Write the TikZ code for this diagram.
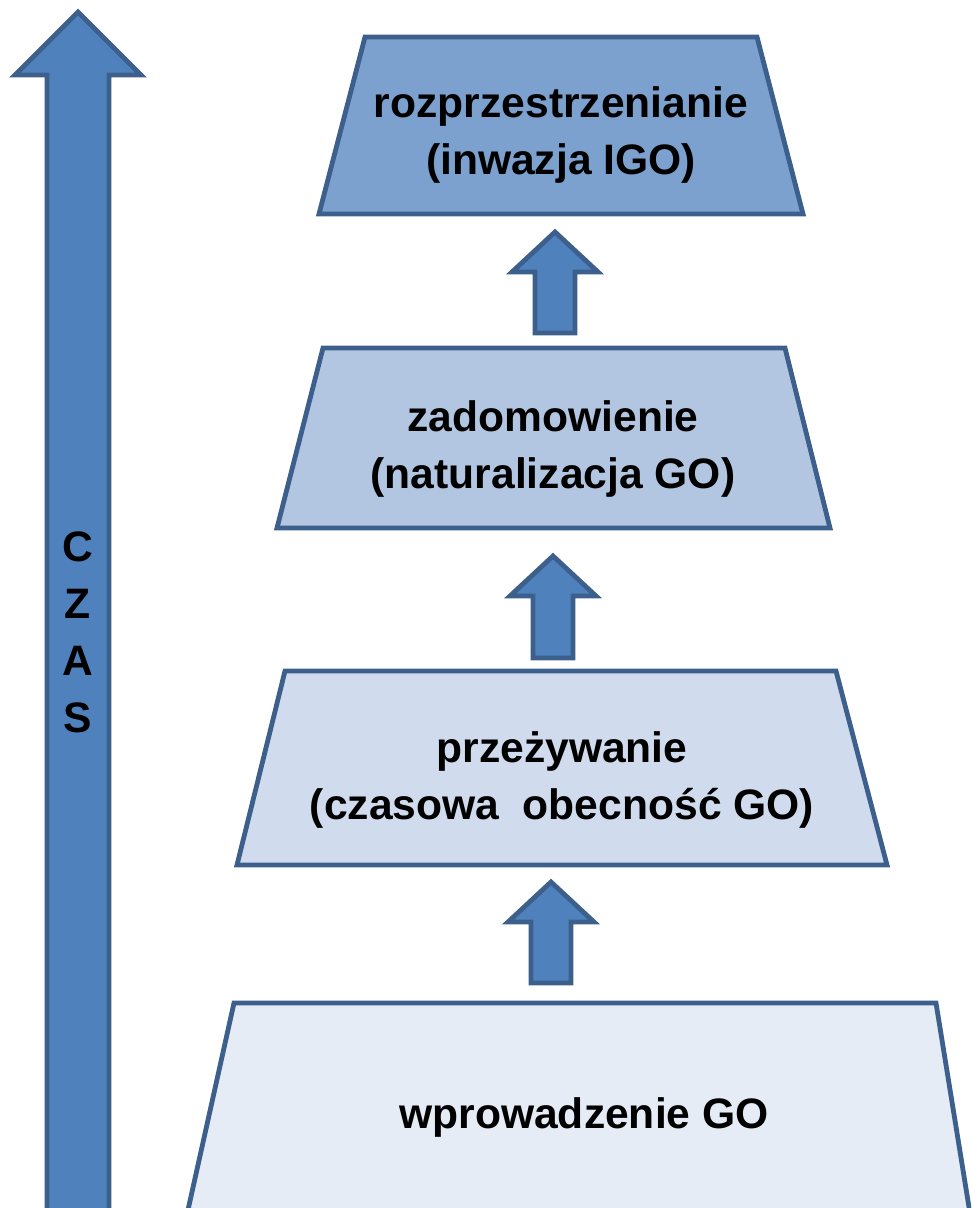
\documentclass[tikz,border=0pt]{standalone}
\usepackage{fontspec}
\setmainfont{Liberation Sans}
\definecolor{rama}{HTML}{3C5F8C}
\definecolor{strz}{HTML}{4F81BD}
\definecolor{poz1}{HTML}{7CA1CE}
\definecolor{poz2}{HTML}{B2C6E1}
\definecolor{poz3}{HTML}{D0DCED}
\definecolor{poz4}{HTML}{E5ECF5}

\begin{document}
\begin{tikzpicture}[x=0.5pt,y=-0.5pt,line join=miter,
    etap/.style={draw=rama,line width=2.4pt},
    opis/.style={font=\bfseries\fontsize{21.3}{28.5}\selectfont,align=center}]
  \clip (0,0) rectangle (971,1208);
  % duza strzalka czasu
  \draw[etap,fill=strz] (78,12) -- (141,75) -- (109,75) -- (109,1230)
    -- (47,1230) -- (47,75) -- (15,75) -- cycle;
  \node[opis] (czas) at (78,632) {C\\Z\\A\\S};
  % poziomy (od gory)
  \draw[etap,fill=poz1] (365,37) -- (757,37) -- (803,214) -- (319,214) -- cycle;
  \draw[etap,fill=poz2] (323,348) -- (785,348) -- (830,528) -- (277,528) -- cycle;
  \draw[etap,fill=poz3] (285,671) -- (836,671) -- (887,865) -- (237,865) -- cycle;
  \draw[etap,fill=poz4] (234,1003) -- (936,1003) -- (984,1300) -- (168,1300) -- cycle;
  \node[opis] (rozp) at (561,135) {rozprzestrzenianie\\(inwazja IGO)};
  \node[opis] (zado) at (553,449) {zadomowienie\\(naturalizacja GO)};
  \node[opis] (prze) at (562,780) {przeżywanie\\(czasowa\ \ obecność GO)};
  \node[opis] (wpro) at (584,1117) {wprowadzenie GO};
  % male strzalki miedzy poziomami
  \foreach \x/\yt/\yb in {555/232/333, 553/556/658, 551/882/983}
    \draw[etap,fill=strz] (\x,\yt) -- (\x+43,\yt+40) -- (\x+20,\yt+40) -- (\x+20,\yb)
      -- (\x-20,\yb) -- (\x-20,\yt+40) -- (\x-43,\yt+40) -- cycle;
\end{tikzpicture}
\end{document}
